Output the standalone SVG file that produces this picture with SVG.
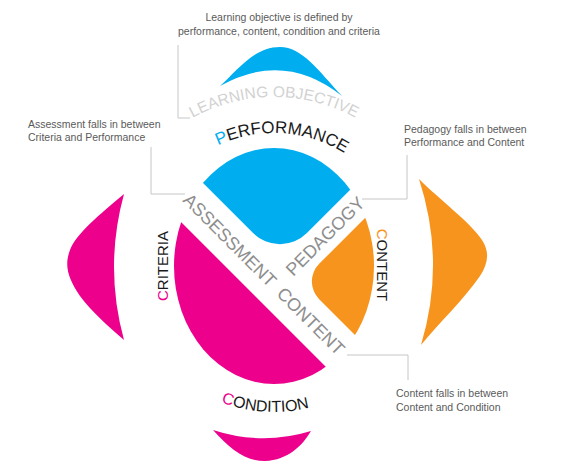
<svg xmlns="http://www.w3.org/2000/svg" width="574" height="469" viewBox="0 0 574 469">
  <style>
    .blue { fill: #00aeef; }
    .orange { fill: #f7941d; }
    .magenta { fill: #ec008c; }
    .note { font-family: "Liberation Sans", Arial, sans-serif; font-size: 10.5px; fill: #5a5a5a; }
    .ring { font-family: "Liberation Sans", Arial, sans-serif; fill: #1a1a1a; }
    .band { font-family: "Liberation Sans", Arial, sans-serif; font-size: 18px; fill: #8e8e8e; }
    .lo { font-family: "Liberation Sans", Arial, sans-serif; font-size: 15.5px; fill: #d2d2d2; }
    .link { fill: none; stroke: #c6c6c6; stroke-width: 1; }
  </style>
  <defs>
    <clipPath id="core">
      <ellipse cx="274" cy="266" rx="100" ry="118"/>
    </clipPath>
    <path id="arc-lo" d="M105,266 A169,169 0 0 1 443,266"/>
    <path id="arc-perf" d="M141,266 A133,133 0 0 1 407,266"/>
    <path id="arc-cond" d="M128,266 A146,146 0 0 0 420,266"/>
  </defs>

  <rect width="574" height="469" fill="#ffffff"/>

  <!-- connectors from the notes -->
  <g id="connectors">
    <polyline class="link" points="178,45 178,118 190,118"/>
    <polyline class="link" points="151,147 151,194 185,194"/>
    <polyline class="link" points="407,155 407,199 362,199"/>
    <polyline class="link" points="347,355 408,355 408,380"/>
  </g>

  <!-- performance: top quadrant, outer petal, label -->
  <g id="performance">
    <path class="blue" clip-path="url(#core)" d="M120,100 L253.1,233.1 A38,38 0 0 0 306.9,233.1 L440,100 Z"/>
    <path class="blue" d="M220,86 C238,70 254,47 280,47 C302,47 318,70 342,96 Q284,50 220,86 Z"/>
    <text class="ring" font-size="17"><textPath href="#arc-perf" startOffset="52%" text-anchor="middle"><tspan fill="#00aeef">P</tspan>ERFORMANCE</textPath></text>
  </g>

  <!-- content: right quadrant, outer petal, label -->
  <g id="content">
    <path class="orange" clip-path="url(#core)" d="M440,143 L319.2,263.8 A25,25 0 0 0 319.2,299.2 L460,440 L500,440 L500,143 Z"/>
    <path class="orange" d="M419,179 C440,200 470,222 482,240 C490,252 488,264 480,276 C465,298 440,322 421,345 Q446,262 419,179 Z"/>
    <text class="ring" font-size="15" text-anchor="middle" transform="translate(377,265) rotate(90)"><tspan fill="#f7941d">C</tspan>ONTENT</text>
  </g>

  <!-- criteria and condition: lower-left half, two petals, labels -->
  <g id="criteria-condition">
    <path class="magenta" clip-path="url(#core)" d="M100,141 L400,441 L100,441 Z"/>
    <path class="magenta" d="M124,194 C100,214 76,234 70,250 C64,266 68,278 80,296 C92,312 108,326 124,340 Q104,267 124,194 Z"/>
    <path class="magenta" d="M213,430 Q262,446 311,431 C302,446 288,460 265,461 C245,461 230,449 213,430 Z"/>
    <text class="ring" font-size="15" text-anchor="middle" transform="translate(168,266) rotate(-90)"><tspan fill="#ec008c">C</tspan>RITERIA</text>
    <text class="ring" font-size="16"><textPath href="#arc-cond" startOffset="48%" text-anchor="middle"><tspan fill="#ec008c">C</tspan>ONDITION</textPath></text>
  </g>

  <!-- outer ring caption -->
  <g id="learning-objective">
    <text class="lo"><textPath href="#arc-lo" startOffset="50%" text-anchor="middle">LEARNING OBJECTIVE</textPath></text>
  </g>

  <!-- labels inside the white bands -->
  <g id="assessment">
    <text class="band" text-anchor="middle" dy="0.36em" transform="translate(230,240) rotate(45)">ASSESSMENT</text>
  </g>
  <g id="pedagogy">
    <text class="band" text-anchor="middle" dy="0.36em" transform="translate(325,236) rotate(-45)">PEDAGOGY</text>
  </g>
  <g id="content-band">
    <text class="band" text-anchor="middle" dy="0.36em" transform="translate(311,321) rotate(45)">CONTENT</text>
  </g>

  <!-- explanatory notes -->
  <g id="note-objective">
    <text class="note" x="279" y="21" text-anchor="middle">Learning objective is defined by</text>
    <text class="note" x="279" y="35" text-anchor="middle">performance, content, condition and criteria</text>
  </g>
  <g id="note-assessment">
    <text class="note" x="28" y="128">Assessment falls in between</text>
    <text class="note" x="28" y="141">Criteria and Performance</text>
  </g>
  <g id="note-pedagogy">
    <text class="note" x="404" y="133">Pedagogy falls in between</text>
    <text class="note" x="404" y="146">Performance and Content</text>
  </g>
  <g id="note-content">
    <text class="note" x="396" y="397">Content falls in between</text>
    <text class="note" x="396" y="411">Content and Condition</text>
  </g>
</svg>
